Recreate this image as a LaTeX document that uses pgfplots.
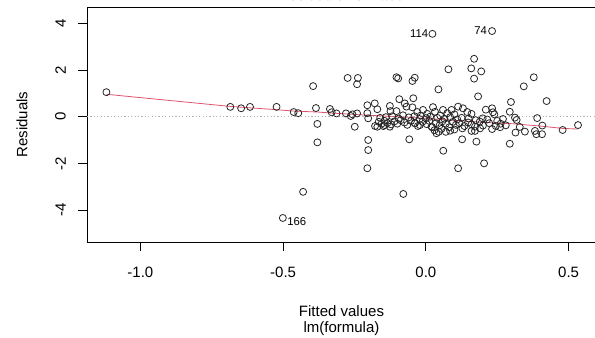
\documentclass[border=0pt]{standalone}
\usepackage{pgfplots}
\pgfplotsset{compat=1.18}
\usepackage{fontspec}
\setmainfont{Liberation Sans}
\definecolor{rred}{HTML}{DF536B}
\begin{document}
\fontsize{15bp}{18bp}\selectfont
\begin{tikzpicture}
\begin{axis}[
 scale only axis, width=509bp, height=235bp,
 xmin=-1.187, xmax=0.596, ymin=-5.37, ymax=4.70,
 xtick={-1,-0.5,0,0.5}, xticklabels={-1.0,-0.5,0.0,0.5},
 ytick={-4,-2,0,2,4}, yticklabels={-4,-2,0,2,4},
 xtick pos=bottom, ytick pos=left, tick align=outside,
 major tick length=9bp,
 every tick/.style={black, line width=0.75bp},
 axis line style={line width=0.8bp},
 /pgf/number format/assume math mode=true,
 xticklabel style={anchor=north, inner sep=0pt},
 yticklabel style={rotate=90, anchor=south, inner sep=0pt},
 xticklabel shift=15.5bp,
 yticklabel shift=12bp,
 clip=false,
]
\addplot[only marks, mark=o, mark size=3.5bp, mark options={line width=0.8bp, black!85}] coordinates {
(-1.119,1.05) (-0.685,0.42) (-0.647,0.36) (-0.616,0.42) (-0.523,0.42)
(-0.463,0.20) (-0.447,0.15) (-0.501,-4.34) (-0.430,-3.22) (-0.395,1.31)
(-0.385,0.37) (-0.380,-0.31) (-0.380,-1.10) (-0.336,0.33) (-0.330,0.19)
(-0.313,0.14) (-0.274,1.66) (-0.238,1.66) (-0.241,1.39) (-0.280,0.14)
(-0.263,0.03) (-0.257,0.10) (-0.241,0.14) (-0.249,-0.43) (-0.205,0.49)
(-0.179,0.57) (-0.170,0.32) (-0.205,0.15) (-0.202,-0.07) (-0.202,-1.00)
(-0.202,-1.43) (-0.205,-2.21) (-0.149,-0.40) (-0.126,0.46) (-0.124,0.24)
(-0.103,0.24) (-0.093,0.75) (-0.074,0.57) (-0.068,0.43) (-0.044,0.79)
(-0.047,0.40) (-0.103,1.69) (-0.097,1.64) (-0.047,1.53) (-0.039,1.67)
(0.044,1.17) (0.079,2.03) (0.023,3.55) (0.232,3.67) (0.169,2.48)
(0.159,2.07) (0.194,1.94) (0.169,1.63) (0.183,0.87) (0.343,1.30)
(0.378,1.69) (0.423,0.67) (0.298,0.63) (0.232,0.36) (0.235,0.19)
(0.294,0.21) (0.312,-0.04) (0.390,-0.06) (0.479,-0.57) (0.533,-0.36)
(0.408,-0.38) (0.382,-0.61) (0.387,-0.75) (0.407,-0.75) (0.347,-0.64)
(0.329,-0.44) (0.314,-0.68) (0.294,-1.16) (0.232,-0.53) (0.172,-0.43)
(0.189,-0.21) (0.199,-0.07) (0.172,-0.61) (0.177,-1.07) (0.127,-0.97)
(0.061,-1.46) (-0.058,-0.97) (0.113,-2.21) (0.204,-2.00) (-0.079,-3.31)
(0.318,-0.14)
(-0.010,0.29) (0.025,0.41) (0.032,0.21) (0.060,0.29) (0.090,0.29)
(0.113,0.43) (0.130,0.36) (0.145,0.20) (0.005,0.12) (-0.030,0.20)
(0.075,0.15) (0.100,0.10) (0.160,0.12) (0.210,0.30) (0.240,0.10)
(-0.018,0.05) (0.050,0.05)
(-0.160,-0.05) (-0.140,-0.02) (-0.118,0.02) (-0.095,-0.08) (-0.080,0.06)
(-0.060,-0.03) (-0.040,0.02) (-0.022,-0.10) (0.000,-0.06) (0.015,0.00)
(0.040,-0.05) (0.065,-0.09) (0.085,-0.02) (0.110,-0.12) (0.125,-0.05)
(0.150,-0.08) (0.175,-0.15) (0.215,-0.12) (0.250,-0.18) (0.270,-0.10)
(-0.165,-0.22) (-0.155,-0.30) (-0.145,-0.18) (-0.135,-0.27) (-0.122,-0.33)
(-0.110,-0.20) (-0.100,-0.30) (-0.088,-0.15) (-0.075,-0.25) (-0.065,-0.35)
(-0.052,-0.18) (-0.038,-0.28) (-0.028,-0.40) (-0.012,-0.22) (0.003,-0.32)
(0.012,-0.18) (0.022,-0.45) (0.035,-0.28) (0.048,-0.37) (0.058,-0.20)
(0.070,-0.30) (0.082,-0.45) (0.095,-0.22) (0.105,-0.35) (0.118,-0.28)
(0.135,-0.40) (0.148,-0.25) (0.160,-0.33) (0.200,-0.38) (0.222,-0.28)
(0.245,-0.40) (0.262,-0.30) (0.280,-0.37)
(-0.178,-0.40) (-0.170,-0.43) (0.030,-0.58) (0.055,-0.52) (0.070,-0.65)
(0.085,-0.60) (0.100,-0.55) (0.128,-0.50) (0.190,-0.50) (0.260,-0.45)
(-0.144,-0.36) (-0.126,-0.43) (-0.039,-0.28) (-0.021,-0.36) (0.020,-0.43)
(0.037,-0.71) (0.045,-0.65) (0.160,-0.61)
};
\addplot[gray!60, line width=0.75bp, dash pattern=on 1.2bp off 2.2bp] coordinates {(-1.187,0) (0.596,0)};
\addplot[rred, line width=0.8bp] coordinates {
(-1.119,0.96) (-0.685,0.44) (-0.616,0.38) (-0.523,0.30) (-0.463,0.24)
(-0.38,0.20) (-0.31,0.14) (-0.20,0.06) (-0.10,0.00) (0.00,-0.07)
(0.10,-0.16) (0.20,-0.24) (0.30,-0.30) (0.40,-0.40) (0.477,-0.50) (0.532,-0.53)
};
\node[anchor=east, inner sep=0pt, xshift=-4bp, font=\fontsize{11.3bp}{13bp}\selectfont] at (axis cs:0.023,3.55) {114};
\node[anchor=east, inner sep=0pt, xshift=-5bp, font=\fontsize{11.3bp}{13bp}\selectfont] at (axis cs:0.232,3.67) {74};
\node[anchor=west, inner sep=0pt, xshift=4.3bp, yshift=-4bp, font=\fontsize{11.3bp}{13bp}\selectfont] at (axis cs:-0.501,-4.34) {166};
\coordinate (ll) at (rel axis cs:0,0);
\coordinate (ur) at (rel axis cs:1,1);
\coordinate (ml) at (rel axis cs:0,0.5);
\coordinate (bc) at (rel axis cs:0.5,0);
\coordinate (tc) at (rel axis cs:0.5,1);
\end{axis}
\node[rotate=90] at ([xshift=-65bp]ml) {Residuals};
\node[anchor=base] at ([yshift=-74bp]bc) {Fitted values};
\node[anchor=base] at ([yshift=-90bp]bc) {lm(formula)};
\node[anchor=base] at ([yshift=7bp]tc) {Residuals vs Fitted};
\pgfresetboundingbox
\path ([shift={(-87bp,-96bp)}]ll) rectangle ([shift={(-1bp,7bp)}]ur);
\end{tikzpicture}
\end{document}
